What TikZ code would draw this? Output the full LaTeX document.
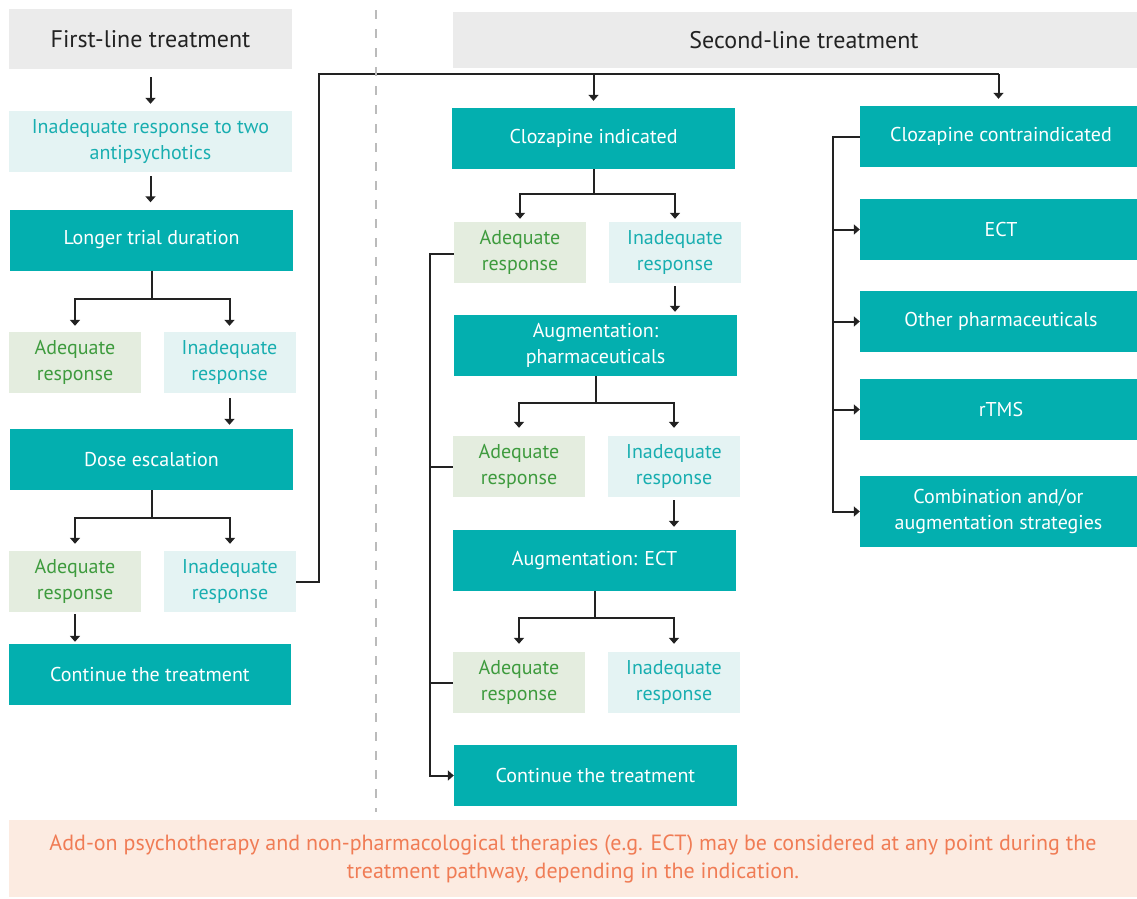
\documentclass[tikz,border=0pt]{standalone}
\usepackage{fontspec}
\setmainfont{PT Sans}
\usetikzlibrary{arrows.meta,calc}
\definecolor{tealbox}{HTML}{03AFAF}
\definecolor{hdrbg}{HTML}{EBEBEB}
\definecolor{hdrtext}{HTML}{222222}
\definecolor{adbg}{HTML}{E4EDDF}
\definecolor{adtext}{HTML}{3E9B3E}
\definecolor{inbg}{HTML}{E4F3F3}
\definecolor{intext}{HTML}{18AEB0}
\definecolor{linec}{HTML}{222222}
\definecolor{dashc}{HTML}{BBBBBB}
\definecolor{notebg}{HTML}{FCEBE1}
\definecolor{notetext}{HTML}{F07C55}
\tikzset{
  box/.style={inner sep=0pt, align=center, font=\fontsize{20}{26}\selectfont},
  hdr/.style={box, fill=hdrbg, text=hdrtext, font=\fontsize{24}{28}\selectfont},
  mainbox/.style={box, fill=tealbox, text=white, minimum width=283pt, minimum height=61pt},
  sidebox/.style={box, fill=tealbox, text=white, minimum width=277pt, minimum height=61pt},
  adeq/.style={box, fill=adbg, text=adtext, minimum width=132pt, minimum height=61pt},
  inad/.style={box, fill=inbg, text=intext, minimum width=132pt, minimum height=61pt},
  conn/.style={line width=2pt, draw=linec},
  arr/.style={conn, -{Triangle[length=6pt,width=10pt]}},
}
\begin{document}
\begin{tikzpicture}[x=1pt,y=-1pt]
\useasboundingbox (0,0) rectangle (1137,898);
\fill[white] (0,0) rectangle (1137,898);

% headers
\node[hdr, minimum width=283pt, minimum height=60pt] (h1) at (150.5,39) {First-line treatment};
\node[hdr, minimum width=684pt, minimum height=56pt] (h2) at (795,40) {\hspace{18pt}Second-line treatment};

% first line column
\node[box, fill=inbg, text=intext, minimum width=283pt, minimum height=61pt] (in0) at (150.5,141.5) {Inadequate response to two\\antipsychotics};
\node[mainbox] (longer) at (151.5,240) {Longer trial duration};
\node[adeq] (ad1) at (75,362.5) {Adequate\\response};
\node[inad] (in1) at (229.5,362.5) {Inadequate\\response};
\node[mainbox] (dose) at (151.5,459.5) {Dose escalation};
\node[adeq] (ad2) at (75,581.5) {Adequate\\response};
\node[inad] (in2) at (230,581.5) {Inadequate\\response};
\node[mainbox, minimum width=282pt] (cont1) at (150,674.5) {Continue the treatment};

% second line middle column
\node[mainbox] (ci) at (593.5,138.5) {Clozapine indicated};
\node[adeq] (ad3) at (520,252.5) {Adequate\\response};
\node[inad] (in3) at (675,252.5) {Inadequate\\response};
\node[mainbox] (aug1) at (595.5,345.5) {Augmentation:\\pharmaceuticals};
\node[adeq] (ad4) at (519,466.5) {Adequate\\response};
\node[inad] (in4) at (674,466.5) {Inadequate\\response};
\node[mainbox] (aug2) at (594.5,560.5) {Augmentation: ECT};
\node[adeq] (ad5) at (519,682.5) {Adequate\\response};
\node[inad] (in5) at (674,682.5) {Inadequate\\response};
\node[mainbox] (cont2) at (595.5,775.5) {Continue the treatment};

% right column
\node[sidebox] (cc) at (998.5,136.5) {\hspace{5pt}Clozapine contraindicated};
\node[sidebox] (ect) at (998.5,229.5) {\hspace{5pt}ECT};
\node[sidebox] (oth) at (998.5,321.5) {\hspace{5pt}Other pharmaceuticals};
\node[sidebox] (rtms) at (998.5,409.5) {\hspace{5pt}rTMS};
\node[sidebox, minimum height=71pt] (comb) at (998.5,511.5) {Combination and/or\\augmentation strategies};

% note
\node[box, fill=notebg, text=notetext, minimum width=1128pt, minimum height=77pt, font=\fontsize{22}{28}\selectfont] (note) at (573,858.5) {Add-on psychotherapy and non-pharmacological therapies (e.g. ECT) may be considered at any point during the\\treatment pathway, depending in the indication.};

% first line connectors
\draw[arr, shorten <=8pt, shorten >=7pt] (h1.south) -- (h1.south |- in0.north);
\draw[arr, shorten <=4pt, shorten >=7pt] (in0.south) -- (in0.south |- longer.north);
\draw[conn] (longer.south) -- ++(0,28) coordinate (j1);
\draw[arr] (j1) -| ([yshift=6pt]ad1.north);
\draw[arr] (j1) -| ([yshift=6pt]in1.north);
\draw[arr, shorten <=5pt, shorten >=4pt] (in1.south) -- (in1.south |- dose.north);
\draw[conn] (dose.south) -- ++(0,28) coordinate (j2);
\draw[arr] (j2) -| ([yshift=7pt]ad2.north);
\draw[arr] (j2) -| ([yshift=7pt]in2.north);
\draw[arr, shorten <=2pt, shorten >=2pt] (ad2.south) -- (ad2.south |- cont1.north);

% transfer to second line
\draw[conn] (in2.east) -- ++(23,0) coordinate (tr) -- ($(tr |- h2.south)+(0,6)$) coordinate (bus) -- (bus -| cc.north);
\draw[arr] (bus -| ci.north) -- ([yshift=7pt]ci.north);
\draw[arr] (bus -| cc.north) -- ([yshift=7pt]cc.north);

% middle column connectors
\draw[conn] (ci.south) -- ++(0,25) coordinate (j3);
\draw[arr] (j3) -| ([yshift=3pt]ad3.north);
\draw[arr] (j3) -| ([yshift=3pt]in3.north);
\draw[arr, shorten <=3pt, shorten >=3pt] (in3.south) -- (in3.south |- aug1.north);
\draw[conn] (aug1.south) -- ++(0,27) coordinate (j4);
\draw[arr] (j4) -| ([yshift=8pt]ad4.north);
\draw[arr] (j4) -| ([yshift=8pt]in4.north);
\draw[arr, shorten <=3pt, shorten >=3pt] (in4.south) -- (in4.south |- aug2.north);
\draw[conn] (aug2.south) -- ++(0,27) coordinate (j5);
\draw[arr] (j5) -| ([yshift=8pt]ad5.north);
\draw[arr] (j5) -| ([yshift=8pt]in5.north);

% left bus to continue
\draw[arr] ([yshift=-1.5pt]ad3.west) -- ++(-24,0) coordinate (lb) |- (cont2.west);
\draw[conn] (ad4.west) -- (ad4.west -| lb);
\draw[conn] (ad5.west) -- (ad5.west -| lb);

% right bus
\draw[arr] (cc.west) -- ++(-27,0) coordinate (rb) |- (comb.west);
\draw[arr] (rb |- ect.west) -- (ect.west);
\draw[arr] (rb |- oth.west) -- (oth.west);
\draw[arr] (rb |- rtms.west) -- (rtms.west);

% dashed divider
\draw[dashc, line width=2pt, dash pattern=on 9pt off 10pt] (376,10) -- (376,812);
\end{tikzpicture}
\end{document}
